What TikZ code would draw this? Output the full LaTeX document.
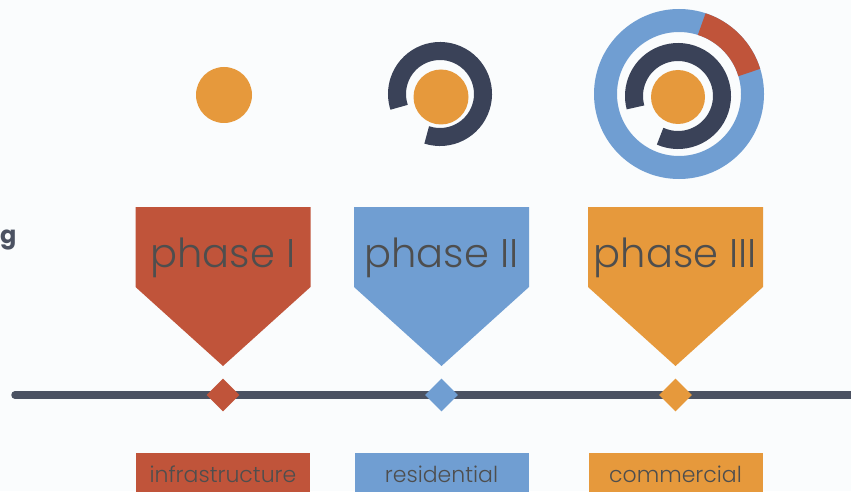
\documentclass[tikz,border=0pt]{standalone}
\usepackage{fontspec}
\setmainfont{Poppins}
\newfontfamily\thinfont{Poppins Light}
\usepackage{xcolor}
\usepackage{tikz}
\usetikzlibrary{shapes.geometric}
\definecolor{phred}{HTML}{C0543A}
\definecolor{phblue}{HTML}{709ED2}
\definecolor{phorange}{HTML}{E6993C}
\definecolor{ringnavy}{HTML}{3A4258}
\definecolor{linegray}{HTML}{4B5262}
\definecolor{txtgray}{HTML}{4E4E4E}
\definecolor{paper}{HTML}{FAFCFD}

\begin{document}
\begin{tikzpicture}[x=1pt,y=1pt,
    phasetext/.style={anchor=base, inner sep=0pt, text=txtgray,
                      font=\thinfont\fontsize{40}{40}\selectfont},
    arealabel/.style={anchor=north, minimum width=174pt, minimum height=42pt,
                      text height=16pt, text depth=0pt, inner sep=0pt,
                      text=txtgray, font=\thinfont\fontsize{22}{22}\selectfont},
    milestone/.style={diamond, minimum size=33pt, inner sep=0pt},
    core/.style={circle, fill=phorange, inner sep=0pt}]
  \fill[paper] (0,0) rectangle (851,491);
  \clip (0,0) rectangle (851,491);

  % cut-off word on the left
  \node[anchor=base west, inner sep=0pt, text=linegray,
        font=\bfseries\fontsize{24}{24}\selectfont] (cutword) at (0,248) {g};

  % timeline
  \coordinate (tlstart) at (15,96);
  \coordinate (tlend) at (860,96);
  \draw[linegray, line width=7.5pt, line cap=round] (tlstart) -- (tlend);

  % phases
  \foreach \cx/\col/\num/\name/\area in {223/phred/1/phase I/infrastructure,
      441.5/phblue/2/phase II/residential, 675.5/phorange/3/phase III/commercial}{
    \fill[\col] (\cx-87.5,284) -- (\cx+87.5,284) -- (\cx+87.5,204)
                -- (\cx,125) -- (\cx-87.5,204) -- cycle;
    \node[phasetext] (phase\num) at (\cx,224) {\name};
    \node[milestone, fill=\col] (mile\num) at (\cx,96) {};
    \node[arealabel, fill=\col] (area\num) at (\cx,38) {\area};
  }

  % growth rings
  \node[core, minimum size=56pt] (core1) at (224,396) {};

  \draw[ringnavy, line width=18pt] (440,397) ++(252:43)
        arc[start angle=252, end angle=558, radius=43];
  \node[core, minimum size=55pt] (core2) at (441,394) {};

  \draw[phblue, line width=23pt] (679,397) circle (73.5);
  \draw[phred, line width=23pt] (679,397) ++(17:73.5)
        arc[start angle=17, end angle=72, radius=73.5];
  \draw[ringnavy, line width=18pt] (678,395) ++(246:44)
        arc[start angle=246, end angle=555, radius=44];
  \node[core, minimum size=54pt] (core3) at (678,394) {};
\end{tikzpicture}
\end{document}
